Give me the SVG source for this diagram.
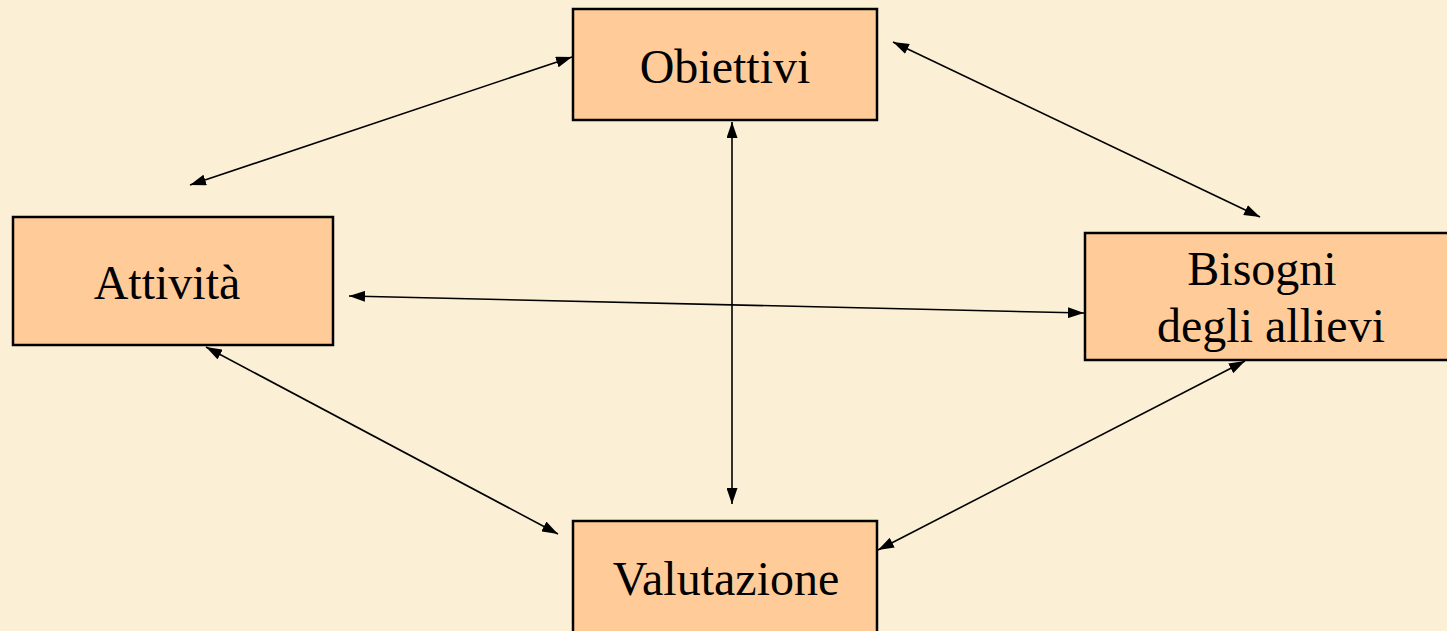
<svg xmlns="http://www.w3.org/2000/svg" width="1447" height="631" viewBox="0 0 1447 631">
  <style>
    .box { fill: #FFCC99; stroke: #000; stroke-width: 2.5; }
    .lbl { font-family: "Liberation Serif", "Times New Roman", serif; font-size: 48px; fill: #000; text-anchor: middle; }
    .conn { stroke: #000; stroke-width: 1.6; fill: none; marker-start: url(#ah); marker-end: url(#ah); }
  </style>
  <defs>
    <marker id="ah" viewBox="0 0 16 11" refX="16" refY="5.5" markerWidth="16" markerHeight="11" markerUnits="userSpaceOnUse" orient="auto-start-reverse">
      <path d="M0,0 L16,5.5 L0,11 Z" fill="#000"/>
    </marker>
  </defs>
  <rect x="0" y="0" width="1447" height="631" fill="#FBEFD6"/>
  <g id="connectors">
    <line class="conn" x1="190" y1="185" x2="572" y2="57"/>
    <line class="conn" x1="893" y1="42" x2="1260" y2="217"/>
    <line class="conn" x1="732" y1="122" x2="732" y2="504"/>
    <line class="conn" x1="349" y1="296" x2="1084" y2="313"/>
    <line class="conn" x1="206" y1="347" x2="558" y2="534"/>
    <line class="conn" x1="1245" y1="361" x2="878" y2="550"/>
  </g>
  <g id="obiettivi">
    <rect class="box" x="573" y="9" width="304" height="111"/>
    <text class="lbl" x="725" y="83">Obiettivi</text>
  </g>
  <g id="attivita">
    <rect class="box" x="13" y="217" width="320" height="128"/>
    <text class="lbl" x="167" y="299">Attività</text>
  </g>
  <g id="bisogni">
    <rect class="box" x="1085" y="233" width="370" height="127"/>
    <text class="lbl" x="1262" y="285">Bisogni</text>
    <text class="lbl" x="1271" y="342">degli allievi</text>
  </g>
  <g id="valutazione">
    <rect class="box" x="573" y="521" width="304" height="120"/>
    <text class="lbl" x="726" y="595">Valutazione</text>
  </g>
</svg>
